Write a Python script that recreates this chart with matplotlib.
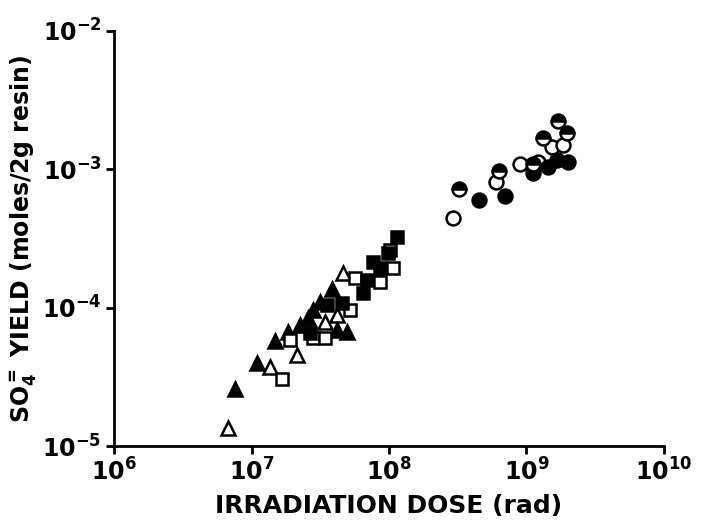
import matplotlib.pyplot as plt
from matplotlib.ticker import FixedLocator, FixedFormatter, NullLocator

# dose (rad) and SO4 yield (moles/2g resin)
open_tri_x = [6.7e6, 1.36e7, 2.14e7, 3.43e7, 4.2e7, 4.6e7]
open_tri_y = [1.36e-5, 3.75e-5, 4.6e-5, 7.9e-5, 8.9e-5, 1.79e-4]

fill_tri_x = [7.6e6, 1.1e7, 1.48e7, 1.84e7, 2.25e7, 2.58e7, 2.8e7, 3.15e7, 3.85e7, 4.2e7, 4.95e7]
fill_tri_y = [2.6e-5, 4.0e-5, 5.8e-5, 6.7e-5, 7.5e-5, 8.5e-5, 9.7e-5, 1.1e-4, 1.37e-4, 6.9e-5, 6.7e-5]

open_sq_x = [1.67e7, 1.9e7, 2.8e7, 3.43e7, 5.2e7, 5.66e7, 8.6e7, 1.07e8, 1.02e8]
open_sq_y = [3.07e-5, 5.9e-5, 6.1e-5, 6.1e-5, 9.7e-5, 1.65e-4, 1.54e-4, 1.95e-4, 2.6e-4]

fill_sq_x = [2.66e7, 3.54e7, 4.55e7, 6.5e7, 6.9e7, 7.65e7, 8.6e7, 9.8e7, 1.14e8]
fill_sq_y = [6.6e-5, 1.05e-4, 1.09e-4, 1.28e-4, 1.6e-4, 2.15e-4, 1.95e-4, 2.5e-4, 3.26e-4]

open_circ_x = [2.92e8, 6.0e8, 8.97e8, 1.21e9, 1.53e9, 1.84e9]
open_circ_y = [4.47e-4, 8.1e-4, 1.1e-3, 1.13e-3, 1.45e-3, 1.5e-3]

fill_circ_x = [4.52e8, 6.98e8, 1.11e9, 1.43e9, 1.67e9, 2.0e9]
fill_circ_y = [6.0e-4, 6.4e-4, 9.4e-4, 1.04e-3, 1.17e-3, 1.13e-3]

half_circ_x = [3.23e8, 6.3e8, 1.11e9, 1.32e9, 1.69e9, 1.97e9]
half_circ_y = [7.2e-4, 9.7e-4, 1.1e-3, 1.69e-3, 2.24e-3, 1.84e-3]

x_ticks = [1e6, 1e7, 1e8, 1e9, 1e10]
x_labels = [r'$\mathbf{10^{6}}$', r'$\mathbf{10^{7}}$', r'$\mathbf{10^{8}}$',
            r'$\mathbf{10^{9}}$', r'$\mathbf{10^{10}}$']
y_ticks = [1e-5, 1e-4, 1e-3, 1e-2]
y_labels = [r'$\mathbf{10^{-5}}$', r'$\mathbf{10^{-4}}$', r'$\mathbf{10^{-3}}$',
            r'$\mathbf{10^{-2}}$']

plt.rcParams['font.family'] = 'DejaVu Sans'
plt.rcParams['mathtext.fontset'] = 'dejavusans'

fig = plt.figure(figsize=(7.01, 5.25), dpi=100)
ax = fig.add_axes([0.163, 0.150, 0.784, 0.791])
ax.set_xscale('log')
ax.set_yscale('log')
ax.set_xlim(1e6, 1e10)
ax.set_ylim(1e-5, 1e-2)

ew = 1.8
ax.plot(open_tri_x, open_tri_y, '^', ms=9.5, mfc='white', mec='black', mew=ew, ls='none')
ax.plot(fill_tri_x, fill_tri_y, '^', ms=9.5, mfc='black', mec='black', mew=ew, ls='none')
ax.plot(open_sq_x, open_sq_y, 's', ms=8.5, mfc='white', mec='black', mew=ew, ls='none')
ax.plot(fill_sq_x, fill_sq_y, 's', ms=8.5, mfc='black', mec='black', mew=ew, ls='none')
ax.plot(open_circ_x, open_circ_y, 'o', ms=10, mfc='white', mec='black', mew=ew, ls='none')
ax.plot(fill_circ_x, fill_circ_y, 'o', ms=10, mfc='black', mec='black', mew=ew, ls='none')
ax.plot(half_circ_x, half_circ_y, 'o', ms=10, fillstyle='top', mfc='black',
        mfcalt='white', mec='black', mew=ew, ls='none')

for side in ['top', 'right']:
    ax.spines[side].set_visible(False)
for side in ['left', 'bottom']:
    ax.spines[side].set_linewidth(2)

ax.xaxis.set_major_locator(FixedLocator(x_ticks))
ax.xaxis.set_major_formatter(FixedFormatter(x_labels))
ax.yaxis.set_major_locator(FixedLocator(y_ticks))
ax.yaxis.set_major_formatter(FixedFormatter(y_labels))
ax.xaxis.set_minor_locator(NullLocator())
ax.yaxis.set_minor_locator(NullLocator())
ax.tick_params(axis='both', direction='out', length=6, width=2, labelsize=17, pad=3)

ax.set_xlabel('IRRADIATION DOSE (rad)', fontsize=18, fontweight='bold', labelpad=6)
ax.set_ylabel(r'SO$_\mathbf{4}^{\mathbf{=}}$ YIELD (moles/2g resin)', fontsize=17,
              fontweight='bold', labelpad=2)

fig.savefig('out.png', dpi=100)
